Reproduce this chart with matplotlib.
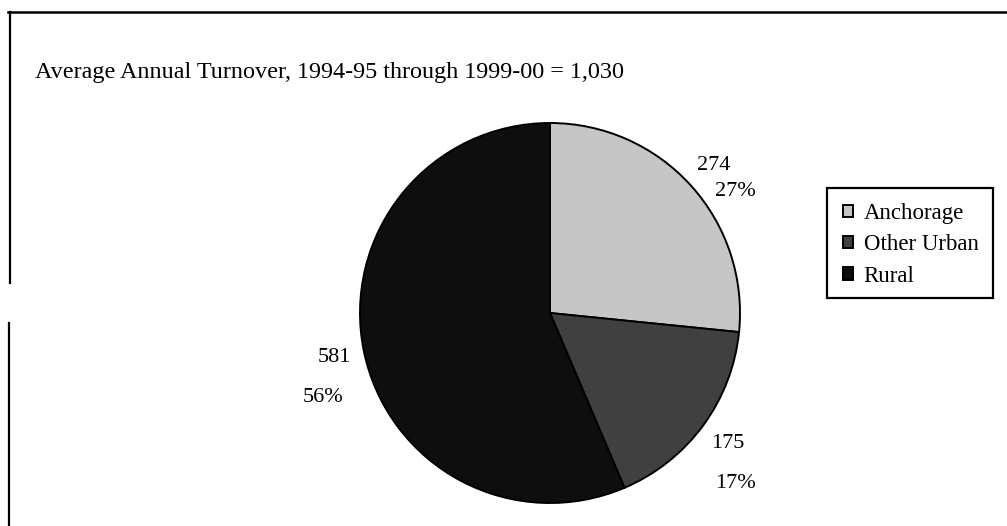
import numpy as np
import matplotlib
matplotlib.use("Agg")
import matplotlib.pyplot as plt
from matplotlib.lines import Line2D
from matplotlib.patches import Rectangle

plt.rcParams["font.family"] = ["Liberation Serif", "DejaVu Serif"]

# data
regions = ["Anchorage", "Other Urban", "Rural"]
turnover = [274, 175, 581]
percent = ["27%", "17%", "56%"]
total_label = "Average Annual Turnover, 1994-95 through 1999-00 = 1,030"

# style
COLORS = ["#c6c6c6", "#404040", "#0e0e0e"]
PCT_OFFSET = [(16, -19), (6, -29), (-8, -29)]   # pct label offset from value label (pt)

W, H = 1007, 526
fig = plt.figure(figsize=(W / 100, H / 100), dpi=100)

# pie axes: centre (550, 313) px, radius 190 px
cx, cy, r = 550, 313, 190
ax = fig.add_axes([(cx - r) / W, (H - cy - r) / H, 2 * r / W, 2 * r / H])
wedges, _ = ax.pie(turnover, colors=COLORS, startangle=90, counterclock=False,
                   radius=1.0,
                   wedgeprops=dict(edgecolor="black", linewidth=1.4))
ax.set_xlim(-1, 1)
ax.set_ylim(-1, 1)
ax.set_aspect("equal")

for w, val, pct, off in zip(wedges, turnover, percent, PCT_OFFSET):
    mid = np.deg2rad((w.theta1 + w.theta2) / 2)
    x, y = 1.16 * np.cos(mid), 1.16 * np.sin(mid)
    ax.text(x, y, str(val), ha="center", va="center", fontsize=16,
            clip_on=False)
    ax.annotate(pct, (x, y), xytext=off, textcoords="offset points",
                ha="center", va="center", fontsize=16, annotation_clip=False)

fig.text(35 / W, 1 - 72 / H, total_label, ha="left", va="center", fontsize=17.4)

# legend (frame drawn separately so padding can differ per side)
leg = fig.legend(wedges, regions, loc="center left",
                 bbox_to_anchor=(843 / W, 1 - 245 / H),
                 fontsize=16.5, frameon=False,
                 handlelength=0.45, handleheight=0.45,
                 handletextpad=0.45, labelspacing=0.45, borderpad=0,
                 borderaxespad=0)
fig.add_artist(Rectangle((827 / W, 1 - 298 / H), 166 / W, 110 / H,
                         transform=fig.transFigure, facecolor="none",
                         edgecolor="black", linewidth=1.6))

# outer frame lines
fig.add_artist(Line2D([8 / W, 1.0], [1 - 12 / H, 1 - 12 / H], color="black", lw=1.8))
fig.add_artist(Line2D([10 / W, 10 / W], [1 - 12 / H, 1 - 283 / H], color="black", lw=1.6))
fig.add_artist(Line2D([9 / W, 9 / W], [1 - 323 / H, 0.0], color="black", lw=1.6))

fig.savefig("out.png", dpi=100)
